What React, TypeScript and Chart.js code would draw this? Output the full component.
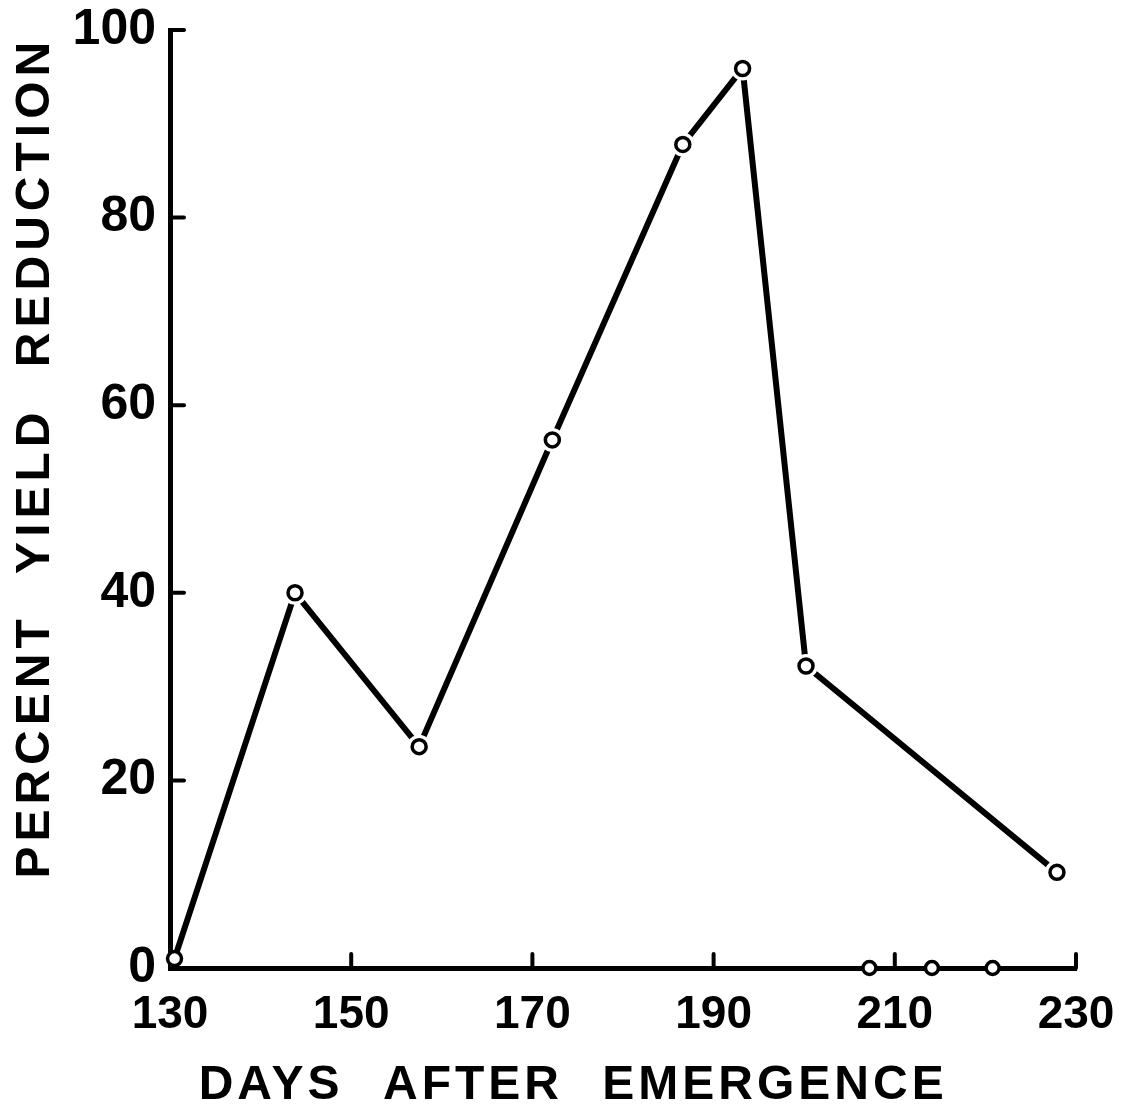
import React, { useEffect, useRef } from "react";
import { Chart, registerables } from "chart.js";

Chart.register(...registerables);

// Data
const days = [130.5, 143.8, 157.5, 172.2, 186.6, 193.2, 200.2, 227.9];
const reduction = [1, 40, 23.6, 56.3, 87.8, 95.9, 32.2, 10.2];
const zeroDays = [207.2, 214.1, 220.8];
const zeroReduction = [0, 0, 0];
const xTicks = [130, 150, 170, 190, 210, 230];
const yTicks = [0, 20, 40, 60, 80, 100];
const xTitle = "DAYS AFTER EMERGENCE";
const yTitle = "PERCENT YIELD REDUCTION";

const FONT = "'Liberation Sans', Arial, sans-serif";

const inwardTicksAndTitles = {
  id: "inwardTicksAndTitles",
  afterDraw(chart: any) {
    const { ctx, scales } = chart;
    const x = scales.x;
    const y = scales.y;
    ctx.save();
    ctx.strokeStyle = "#000";
    ctx.lineWidth = 4;
    ctx.lineCap = "round";
    const len = 14;
    xTicks.forEach((v) => {
      if (v === xTicks[0]) return;
      const px = x.getPixelForValue(v);
      ctx.beginPath();
      ctx.moveTo(px, y.bottom);
      ctx.lineTo(px, y.bottom - len);
      ctx.stroke();
    });
    yTicks.forEach((v) => {
      if (v === yTicks[0]) return;
      const py = y.getPixelForValue(v);
      ctx.beginPath();
      ctx.moveTo(x.left, py);
      ctx.lineTo(x.left + len, py);
      ctx.stroke();
    });

    // axis titles
    ctx.fillStyle = "#000";
    ctx.font = `bold 48px ${FONT}`;
    ctx.textAlign = "center";
    ctx.textBaseline = "middle";
    (ctx as any).letterSpacing = "4px";
    (ctx as any).wordSpacing = "22px";
    ctx.fillText(xTitle, x.left + (x.right - x.left) * 0.445, y.bottom + 118);

    ctx.translate(36, y.top + (y.bottom - y.top) * 0.456);
    ctx.rotate(-Math.PI / 2);
    (ctx as any).letterSpacing = "5px";
    ctx.fillText(yTitle, 0, 0);
    ctx.restore();
  },
};

export default function App() {
  const canvasRef = useRef<HTMLCanvasElement | null>(null);

  useEffect(() => {
    const canvas = canvasRef.current;
    if (!canvas) return;
    const mainPts = days.map((d, i) => ({ x: d, y: reduction[i] }));
    const zeroPts = zeroDays.map((d, i) => ({ x: d, y: zeroReduction[i] }));

    const chart = new Chart(canvas, {
      type: "line",
      data: {
        datasets: [
          {
            label: "rings",
            data: mainPts,
            showLine: false,
            pointRadius: 7,
            pointBorderWidth: 3.5,
            pointBackgroundColor: "#fff",
            pointBorderColor: "#000",
            clip: false,
            order: 1,
          },
          {
            label: "zero rings",
            data: zeroPts,
            showLine: false,
            pointRadius: 6.5,
            pointBorderWidth: 3.5,
            pointBackgroundColor: "#fff",
            pointBorderColor: "#000",
            clip: false,
            order: 1,
          },
          {
            label: "halo",
            data: mainPts,
            showLine: false,
            pointRadius: (c: any) => (c.dataIndex === 0 ? 0 : 12),
            pointBorderWidth: 0,
            pointBackgroundColor: "#fff",
            pointBorderColor: "#fff",
            clip: false,
            order: 2,
          },
          {
            label: "line",
            data: mainPts,
            borderColor: "#000",
            borderWidth: 6,
            pointRadius: 0,
            tension: 0,
            fill: false,
            clip: false,
            order: 3,
          },
        ],
      },
      options: {
        animation: false,
        responsive: true,
        maintainAspectRatio: false,
        events: [],
        layout: { padding: { top: 30, right: 62, left: 0, bottom: 0 } },
        plugins: { legend: { display: false }, tooltip: { enabled: false } },
        scales: {
          x: {
            type: "linear",
            min: 130,
            max: 230,
            afterBuildTicks: (s: any) => {
              s.ticks = xTicks.map((v) => ({ value: v }));
            },
            afterFit: (s: any) => {
              s.height = 150;
              s.paddingLeft = 0;
              s.paddingRight = 0;
              s.paddingTop = 0;
              s.paddingBottom = 0;
            },
            grid: { display: true, drawOnChartArea: false, drawTicks: false },
            border: { display: true, color: "#000", width: 5 },
            ticks: {
              color: "#000",
              padding: 20,
              maxRotation: 0,
              font: { family: FONT, size: 46, weight: "bold" },
            },
          },
          y: {
            type: "linear",
            min: 0,
            max: 100,
            afterBuildTicks: (s: any) => {
              s.ticks = yTicks.map((v) => ({ value: v }));
            },
            afterFit: (s: any) => {
              s.width = 170;
              s.paddingLeft = 0;
              s.paddingRight = 0;
              s.paddingTop = 0;
              s.paddingBottom = 0;
            },
            grid: { display: true, drawOnChartArea: false, drawTicks: false },
            border: { display: true, color: "#000", width: 5 },
            ticks: {
              color: "#000",
              padding: 14,
              font: { family: FONT, size: 50, weight: "bold" },
            },
          },
        },
      },
      plugins: [inwardTicksAndTitles],
    } as any);

    return () => chart.destroy();
  }, []);

  return (
    <div
      style={{
        position: "absolute",
        left: 0,
        top: 0,
        width: 1138,
        height: 1118,
        background: "#fff",
      }}
    >
      <canvas ref={canvasRef} />
    </div>
  );
}
